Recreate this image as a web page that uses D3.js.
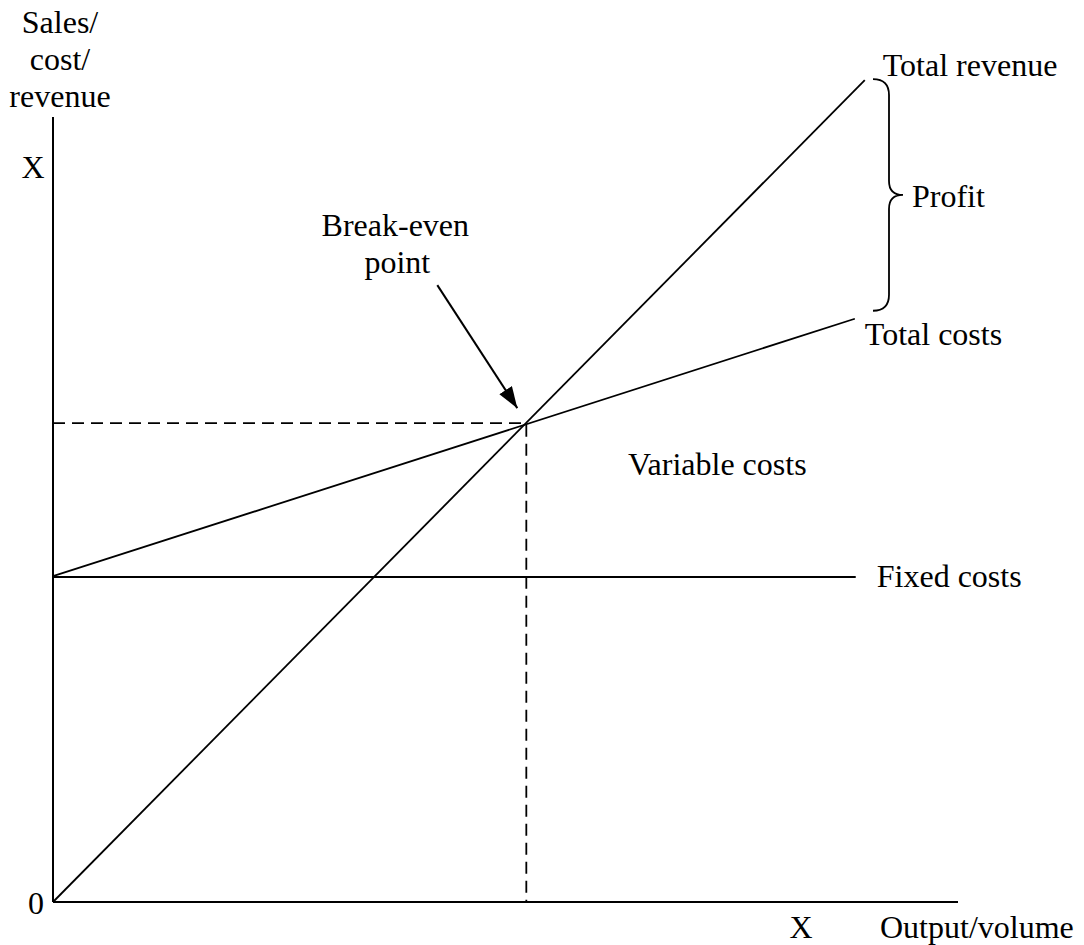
<!DOCTYPE html>
<html>
<head>
<meta charset="utf-8">
<script src="https://cdn.jsdelivr.net/npm/d3@7"></script>
<style>
  body { margin: 0; background: #fff; }
  svg text { font-family: "Liberation Serif", "DejaVu Serif", "Times New Roman", serif; font-size: 32px; fill: #000; }
</style>
</head>
<body>
<script>
// break-even chart, values in arbitrary units (output 0-100, money 0-100)
var totalRevenue = [[0, 0], [89.7, 104.7]];
var totalCosts = [[0, 41.5], [88.6, 74.3]];
var fixedCosts = [[0, 41.4], [88.7, 41.4]];
var breakEven = [52.3, 61.0];
var yAxisTitle = ["Sales/", "cost/", "revenue"];

var width = 1084, height = 945;
var x = d3.scaleLinear().domain([0, 100]).range([53, 958]);
var y = d3.scaleLinear().domain([0, 100]).range([902, 117]);

var svg = d3.select("body").append("svg")
    .attr("width", width)
    .attr("height", height)
    .attr("font-family", "Liberation Serif, serif");

var line = d3.line()
    .x(function(d) { return x(d[0]); })
    .y(function(d) { return y(d[1]); });

// axes (plain lines, no ticks)
svg.append("line")
    .attr("x1", x(0)).attr("y1", y(0))
    .attr("x2", x(0)).attr("y2", y(100))
    .attr("stroke", "#000").attr("stroke-width", 2);
svg.append("line")
    .attr("x1", x(0)).attr("y1", y(0))
    .attr("x2", x(100)).attr("y2", y(0))
    .attr("stroke", "#000").attr("stroke-width", 2);

// dashed guides to break-even point
svg.append("path")
    .attr("d", line([[0, breakEven[1]], breakEven, [breakEven[0], 0]]))
    .attr("fill", "none")
    .attr("stroke", "#000")
    .attr("stroke-width", 1.8)
    .attr("stroke-dasharray", "12,7");

// the three lines
[fixedCosts, totalCosts, totalRevenue].forEach(function(d) {
    svg.append("path")
        .attr("d", line(d))
        .attr("fill", "none")
        .attr("stroke", "#000")
        .attr("stroke-width", 1.8);
});

// arrow to break-even point
svg.append("defs").append("marker")
    .attr("id", "arrow")
    .attr("viewBox", "0 0 20 14")
    .attr("refX", 20).attr("refY", 7)
    .attr("markerWidth", 22).attr("markerHeight", 15)
    .attr("markerUnits", "userSpaceOnUse")
    .attr("orient", "auto")
    .append("path")
    .attr("d", "M0,0 L20,7 L0,14 Z")
    .attr("fill", "#000");

var bx = x(breakEven[0]), by = y(breakEven[1]);
svg.append("line")
    .attr("x1", bx - 89).attr("y1", by - 138)
    .attr("x2", bx - 9).attr("y2", by - 15)
    .attr("stroke", "#000").attr("stroke-width", 2)
    .attr("marker-end", "url(#arrow)");

svg.append("text").attr("x", bx - 131).attr("y", by - 187)
    .attr("text-anchor", "middle").text("Break-even");
svg.append("text").attr("x", bx - 129).attr("y", by - 150)
    .attr("text-anchor", "middle").text("point");

// profit brace between revenue and cost line ends
var braceTop = y(totalRevenue[1][1]) - 1, braceBot = y(totalCosts[1][1]) - 8;
var mid = (braceTop + braceBot) / 2, bl = 873, bv = 889, bt = 903;
svg.append("path")
    .attr("d", "M" + bl + "," + braceTop + " Q" + bv + "," + braceTop + " " + bv + "," + (braceTop + 16) +
        " L" + bv + "," + (mid - 14) + " Q" + bv + "," + mid + " " + bt + "," + mid +
        " Q" + bv + "," + mid + " " + bv + "," + (mid + 14) +
        " L" + bv + "," + (braceBot - 16) + " Q" + bv + "," + braceBot + " " + bl + "," + braceBot)
    .attr("fill", "none").attr("stroke", "#000").attr("stroke-width", 1.8);

// line labels
svg.append("text").attr("x", x(totalRevenue[1][0]) + 18).attr("y", y(totalRevenue[1][1]) - 4)
    .text("Total revenue");
svg.append("text").attr("x", bt + 9).attr("y", mid + 12).text("Profit");
svg.append("text").attr("x", x(totalCosts[1][0]) + 10).attr("y", y(totalCosts[1][1]) + 26)
    .text("Total costs");
svg.append("text").attr("x", x(fixedCosts[1][0]) + 21).attr("y", y(fixedCosts[1][1]) + 10)
    .text("Fixed costs");
svg.append("text").attr("x", 628).attr("y", 475).text("Variable costs");

// axis labels
svg.append("text").attr("x", x(0) - 17).attr("y", y(0) + 12)
    .attr("text-anchor", "middle").text("0");
svg.append("text").attr("x", x(0) - 20).attr("y", 178)
    .attr("text-anchor", "middle").text("X");
svg.append("text").attr("x", 801).attr("y", 938)
    .attr("text-anchor", "middle").text("X");
svg.append("text").attr("x", 880).attr("y", 938).text("Output/volume");

svg.append("text")
    .attr("text-anchor", "middle")
    .selectAll("tspan")
    .data(yAxisTitle)
    .enter().append("tspan")
    .attr("x", 60)
    .attr("y", function(d, i) { return 33 + i * 37; })
    .text(function(d) { return d; });
</script>
</body>
</html>
